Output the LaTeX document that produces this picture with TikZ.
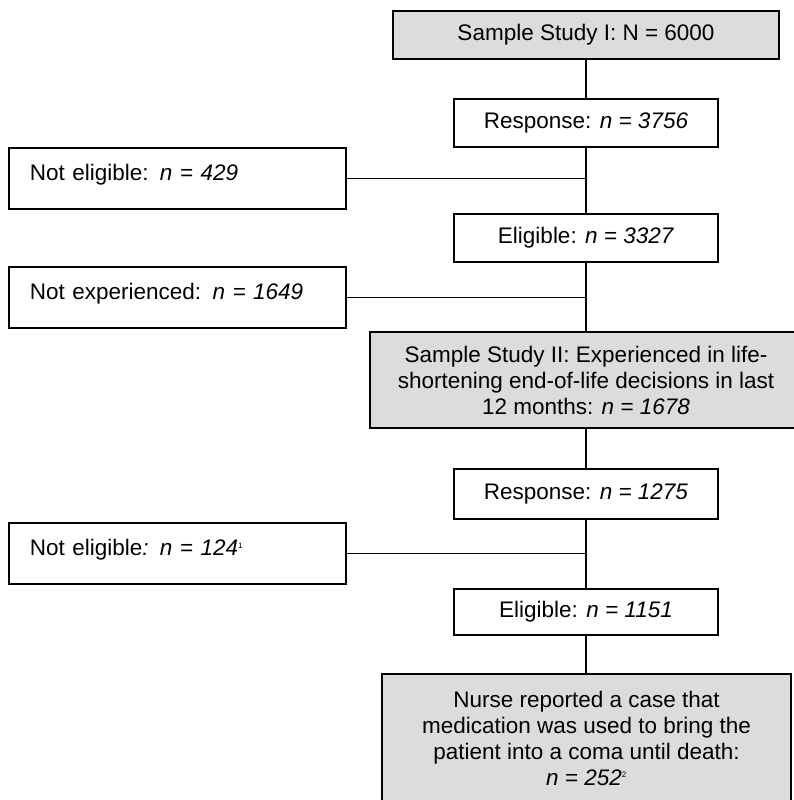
\documentclass[tikz,border=0pt]{standalone}
\usepackage{fontspec}
\setmainfont{Liberation Sans}
\definecolor{boxgray}{RGB}{220,220,220}
\newcommand{\fnmark}[1]{\textsuperscript{\fontsize{8}{8}\selectfont #1}}
\begin{document}
\begin{tikzpicture}[x=1pt,y=-1pt,
  every node/.style={font=\fontsize{22.5}{26}\selectfont},
  flowbox/.style={draw=black,line width=1.8pt,rectangle,inner sep=0pt,align=center},
  mainbox/.style={flowbox,minimum width=264pt,minimum height=48pt},
  graybox/.style={flowbox,fill=boxgray},
  sidebox/.style={flowbox,anchor=north west,text width=337pt,align=left,text height=33pt,text depth=28pt},
  link/.style={line width=1.8pt}]
\useasboundingbox (0,0) rectangle (794,800);
% central column
\node[graybox,minimum width=386pt,minimum height=48pt] (s1) at (586,35) {Sample Study I: N = 6000};
\node[mainbox] (r1) at (586,123) {Response: \textit{n = 3756}};
\node[mainbox] (e1) at (586,238) {Eligible: \textit{n = 3327}};
\node[graybox,minimum width=432pt,minimum height=96pt] (s2) at (586,380)
  {Sample Study II: Experienced in life-\\shortening end-of-life decisions in last\\12 months: \textit{n = 1678}};
\node[mainbox,minimum height=50pt] (r2) at (586,494) {Response: \textit{n = 1275}};
\node[mainbox,minimum height=46pt] (e2) at (586,612) {Eligible: \textit{n = 1151}};
\node[graybox,minimum width=409pt,minimum height=128pt] (nr) at (586.5,738)
  {Nurse reported a case that\\medication was used to bring the\\patient into a coma until death:\\\textit{n = 252}\fnmark{2}};
% side boxes
\node[sidebox] (n1) at (8,147) {\hspace*{21pt}Not eligible: \textit{n = 429}};
\node[sidebox] (n2) at (8,266) {\hspace*{21pt}Not experienced: \textit{n = 1649}};
\node[sidebox] (n3) at (8,522) {\hspace*{21pt}Not eligible\textit{: n = 124}\fnmark{1}};
% connectors
\draw[link] (s1) -- (r1);
\draw[link] (r1) -- (e1);
\draw[link] (e1) -- (s2);
\draw[link] (s2) -- (r2);
\draw[link] (r2) -- (e2);
\draw[link] (e2.south) -- (e2.south |- nr.north);
\draw[link] (n1.east) -- (n1.east -| r1.south);
\draw[link] (n2.east) -- (n2.east -| e1.south);
\draw[link] (n3.east) -- (n3.east -| r2.south);
\end{tikzpicture}
\end{document}
